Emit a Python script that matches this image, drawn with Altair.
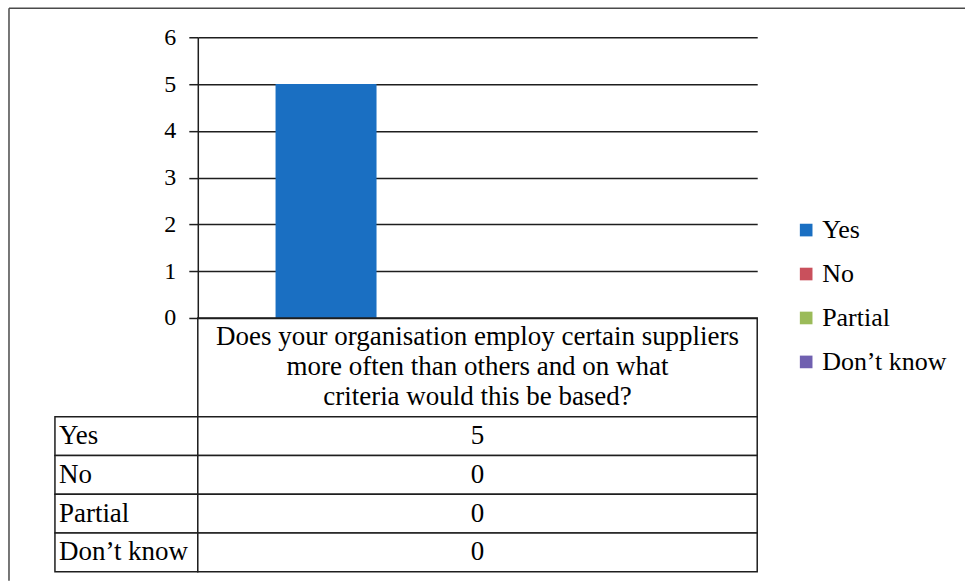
import altair as alt
import pandas as pd

# Survey answers and their counts
responses = ["Yes", "No", "Partial", "Don’t know"]
counts = [5, 0, 0, 0]
palette = ["#1a6fc2", "#c9505c", "#9bbb59", "#7060b0"]
question_lines = [
    "Does your organisation employ certain suppliers",
    "more often than others and on what",
    "criteria would this be based?",
]
y_ticks = [0, 1, 2, 3, 4, 5, 6]

FONT = "'Liberation Serif', 'Times New Roman', Times, serif"
INK = "#1e1e1e"
PLOT_W, PLOT_H = 560, 281
LABEL_W = 143
HEADER_H = 99
ROWS_H = 155
TABLE_FS = 27

df = pd.DataFrame({"response": responses, "count": counts})
no_frame = alt.ViewBackground(stroke="transparent")
cell_frame = alt.ViewBackground(stroke=INK, strokeWidth=1.5)

# Clustered column chart: one group of four series
bars = alt.Chart(df).mark_bar().encode(
    x=alt.X("response:N", sort=responses, axis=None,
            scale=alt.Scale(paddingInner=0, paddingOuter=0.77)),
    y=alt.Y("count:Q", scale=alt.Scale(domain=[0, 6], nice=False),
            axis=alt.Axis(values=y_ticks, title=None, grid=True,
                          gridColor=INK, gridWidth=1.5, gridOpacity=1,
                          domainColor=INK, domainWidth=1.5,
                          tickColor=INK, tickWidth=1.5, tickSize=9,
                          labelPadding=13, labelFont=FONT, labelFontSize=24,
                          labelColor="black")),
    color=alt.Color("response:N", sort=responses,
                    scale=alt.Scale(domain=responses, range=palette),
                    legend=alt.Legend(title=None, orient="none",
                                      legendX=739, legendY=180,
                                      symbolType="square", symbolSize=160,
                                      symbolStrokeWidth=0, padding=0,
                                      labelFont=FONT, labelFontSize=26,
                                      labelColor="black", labelOffset=3,
                                      rowPadding=18)),
).properties(width=PLOT_W, height=PLOT_H, view=no_frame)

# Chart-area border (top and left edges) drawn around the whole figure
frame_top = alt.Chart(pd.DataFrame({"v": [0]})).mark_rule(
    color="#4a4a4a", strokeWidth=1.5, clip=False
).encode(x=alt.value(-46), x2=alt.value(911), y=alt.value(-29))
frame_left = alt.Chart(pd.DataFrame({"v": [0]})).mark_rule(
    color="#4a4a4a", strokeWidth=1.5, clip=False
).encode(x=alt.value(-46), y=alt.value(-29), y2=alt.value(544))
corner = alt.layer(frame_top, frame_left).properties(
    width=LABEL_W, height=PLOT_H, view=no_frame)


def spacer(h):
    return alt.Chart(pd.DataFrame({"v": [0]})).mark_point(opacity=0).properties(
        width=LABEL_W, height=h, view=no_frame)


# Header cell of the data table holding the category name
header = alt.Chart(pd.DataFrame({"q": ["\n".join(question_lines)]})).mark_text(
    font=FONT, fontSize=TABLE_FS, lineHeight=30, lineBreak="\n", dy=-30,
    align="center", baseline="middle", color="black",
).encode(text="q:N").properties(width=PLOT_W, height=HEADER_H, view=cell_frame)

row_y = alt.Y("response:N", sort=responses, axis=None,
              scale=alt.Scale(paddingInner=0, paddingOuter=0))

value_cells = alt.Chart(df).mark_rect(fill="white", stroke=INK, strokeWidth=1.5).encode(y=row_y)
value_text = alt.Chart(df).mark_text(
    font=FONT, fontSize=TABLE_FS, baseline="middle", align="center", color="black"
).encode(y=row_y, text="count:Q")
values = alt.layer(value_cells, value_text).properties(
    width=PLOT_W, height=ROWS_H, view=no_frame)

label_cells = alt.Chart(df).mark_rect(fill="white", stroke=INK, strokeWidth=1.5).encode(y=row_y)
label_text = alt.Chart(df).mark_text(
    font=FONT, fontSize=TABLE_FS, baseline="middle", align="left", color="black"
).encode(y=row_y, x=alt.value(4), text="response:N")
labels = alt.layer(label_cells, label_text).properties(
    width=LABEL_W, height=ROWS_H, view=no_frame)

# Two-column grid: left column holds the row labels of the data table
chart = alt.concat(
    corner, bars,
    spacer(HEADER_H), header,
    labels, values,
    columns=2, spacing=0, bounds="flush",
).properties(
    padding={"left": 7, "top": 6, "right": 0, "bottom": 0},
    background="white",
).configure(font=FONT).configure_axis(labelFont=FONT).configure_legend(labelFont=FONT)

chart.save("out.html", embed_options={"renderer": "svg", "actions": False})
